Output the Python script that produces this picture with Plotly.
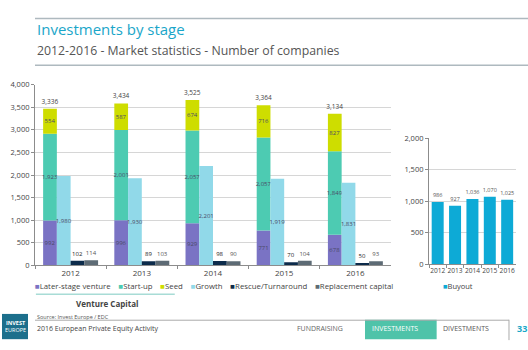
import plotly.graph_objects as go

# ---------------- data ----------------
years = ["2012", "2013", "2014", "2015", "2016"]
later_stage = [992, 996, 929, 771, 678]
start_up = [1923, 2001, 2057, 2057, 1849]
seed = [554, 587, 674, 716, 827]
growth = [1980, 1930, 2201, 1919, 1831]
rescue = [102, 89, 98, 70, 50]
replacement = [114, 103, 90, 104, 93]
vc_totals = [3336, 3434, 3525, 3364, 3134]
buyout = [986, 927, 1036, 1070, 1025]

vc_ticks = [0, 500, 1000, 1500, 2000, 2500, 3000, 3500, 4000]
bo_ticks = [0, 500, 1000, 1500, 2000]

series_names = ["Later-stage venture", "Start-up", "Seed", "Growth",
                "Rescue/Turnaround", "Replacement capital"]
series_colors = ["#7A73C4", "#4DCBB2", "#CEDD00", "#91D9E9", "#0C2B4B", "#5D6B75"]
buyout_color = "#0DAAD6"

FONT = "Open Sans"
W = 0.193  # bar width in category units

fig = go.Figure()

# stacked bar (later-stage + start-up + seed) built with explicit bases
base_startup = later_stage
base_seed = [a + b for a, b in zip(later_stage, start_up)]
stack_top = [a + b for a, b in zip(base_seed, seed)]

inside_font = dict(size=6, color="#4a4a66", family=FONT)

for vals, base, col, name in [
    (later_stage, None, series_colors[0], series_names[0]),
    (start_up, base_startup, series_colors[1], series_names[1]),
    (seed, base_seed, series_colors[2], series_names[2]),
]:
    fig.add_trace(go.Bar(
        x=years, y=vals, base=base, name=name, marker_color=col,
        marker_line_width=0, offset=-2 * W, width=W,
        text=[f"{v:,}" for v in vals], textposition="inside",
        insidetextanchor="middle", textangle=0, constraintext="none",
        insidetextfont=inside_font, showlegend=False,
    ))

# invisible bar carrying the VC total labels above the stack
fig.add_trace(go.Bar(
    x=years, y=stack_top, marker_color="rgba(0,0,0,0)", marker_line_width=0,
    offset=-2 * W, width=W, text=[f"{v:,}" for v in vc_totals],
    textposition="outside", textangle=0, constraintext="none",
    outsidetextfont=dict(size=6.5, color="#444", family=FONT),
    showlegend=False, hoverinfo="skip", cliponaxis=False,
))

fig.add_trace(go.Bar(
    x=years, y=growth, name=series_names[3], marker_color=series_colors[3],
    marker_line_width=0, offset=-W, width=W,
    text=[f"{v:,}" for v in growth], textposition="inside",
    insidetextanchor="middle", textangle=0, constraintext="none",
    insidetextfont=inside_font, showlegend=False,
))

for vals, off, col, name, fc in [
    (rescue, 0, series_colors[4], series_names[4], "#222"),
    (replacement, W, series_colors[5], series_names[5], "#555"),
]:
    fig.add_trace(go.Bar(
        x=years, y=vals, name=name, marker_color=col, marker_line_width=0,
        offset=off, width=W, text=[f"{v:,}" for v in vals],
        textposition="outside", textangle=0, constraintext="none",
        outsidetextfont=dict(size=6, color=fc, family=FONT),
        showlegend=False, cliponaxis=False,
    ))

# buyout chart
fig.add_trace(go.Bar(
    x=years, y=buyout, name="Buyout", marker_color=buyout_color,
    marker_line_width=0, width=0.69, xaxis="x2", yaxis="y2",
    text=[f"{v:,}" for v in buyout], textposition="outside", textangle=0,
    constraintext="none", outsidetextfont=dict(size=5.5, color="#555", family=FONT),
    showlegend=False, cliponaxis=False,
))

axis_common = dict(showline=True, linecolor="#8c8c8c", linewidth=1,
                   ticks="outside", tickcolor="#8c8c8c", ticklen=3,
                   zeroline=False)

fig.update_layout(
    width=528, height=350, margin=dict(l=0, r=0, t=0, b=0),
    paper_bgcolor="white", plot_bgcolor="white",
    barmode="overlay", bargap=0.3,
    font=dict(family=FONT, color="#444"),
    xaxis=dict(domain=[0.0663, 0.7405], type="category", range=[-0.5, 4.5],
               tickson="boundaries", tickfont=dict(size=8, color="#444"),
               tickangle=0, showgrid=False, **axis_common),
    yaxis=dict(domain=[0.2343, 0.7657], range=[0, 4000], tickvals=vc_ticks,
               ticktext=[f"{v:,}" for v in vc_ticks],
               tickfont=dict(size=7.5, color="#444"),
               showgrid=True, gridcolor="#D6D6D6", gridwidth=1, **axis_common),
    xaxis2=dict(domain=[0.8125, 0.977], type="category", range=[-0.5, 4.5],
                anchor="y2", tickson="boundaries", tickangle=0,
                tickfont=dict(size=6.6, color="#444"), showgrid=False, **axis_common),
    yaxis2=dict(domain=[0.2371, 0.6086], range=[0, 2000], anchor="x2",
                tickvals=bo_ticks, ticktext=[f"{v:,}" for v in bo_ticks],
                tickfont=dict(size=7.5, color="#444"),
                showgrid=True, gridcolor="#D6D6D6", gridwidth=1, **axis_common),
)

# ---------------- legends (manual, compact) ----------------
legend_text = "\u2002\u2002".join(
    f"<span style='color:{c}'>■</span>{n}" for n, c in zip(series_names, series_colors)
)
annotations = [
    dict(x=0.0625, y=0.174, xref="paper", yref="paper", xanchor="left",
         yanchor="middle", text=legend_text, showarrow=False,
         font=dict(size=7.8, color="#444", family=FONT)),
    dict(x=0.835, y=0.174, xref="paper", yref="paper", xanchor="left",
         yanchor="middle", text=f"<span style='color:{buyout_color}'>■</span>Buyout",
         showarrow=False, font=dict(size=7.5, color="#444", family=FONT)),
    dict(x=0.2027, y=0.1229, xref="paper", yref="paper", xanchor="center",
         yanchor="middle", text="<b>Venture Capital</b>", showarrow=False,
         font=dict(size=8, color="#444", family=FONT)),
    # titles
    dict(x=0.0663, y=0.9286, xref="paper", yref="paper", xanchor="left",
         yanchor="middle", text="Investments by stage", showarrow=False,
         font=dict(size=15, color="#1AA6C9", family=FONT)),
    dict(x=0.0663, y=0.8657, xref="paper", yref="paper", xanchor="left",
         yanchor="middle", text="2012-2016 - Market statistics - Number of companies",
         showarrow=False, font=dict(size=12.3, color="#555", family=FONT)),
    # footer
    dict(x=0.0663, y=0.0829, xref="paper", yref="paper", xanchor="left",
         yanchor="middle", text="Source: Invest Europe / EDC", showarrow=False,
         font=dict(size=5.5, color="#555", family=FONT)),
    dict(x=0.0663, y=0.0486, xref="paper", yref="paper", xanchor="left",
         yanchor="middle", text="2016 European Private Equity Activity", showarrow=False,
         font=dict(size=7, color="#444", family=FONT)),
    dict(x=0.606, y=0.0486, xref="paper", yref="paper", xanchor="center",
         yanchor="middle", text="FUNDRAISING", showarrow=False,
         font=dict(size=7, color="#666", family=FONT)),
    dict(x=0.7008, y=0.0486, xref="paper", yref="paper", xanchor="left",
         yanchor="middle", text="INVESTMENTS", showarrow=False,
         font=dict(size=7, color="white", family=FONT)),
    dict(x=0.835, y=0.0486, xref="paper", yref="paper", xanchor="left",
         yanchor="middle", text="DIVESTMENTS", showarrow=False,
         font=dict(size=7, color="#555", family=FONT)),
    dict(x=0.975, y=0.0486, xref="paper", yref="paper", xanchor="left",
         yanchor="middle", text="<b>33</b>", showarrow=False,
         font=dict(size=9, color="#1AA7C8", family=FONT)),
    dict(x=0.0285, y=0.054, xref="paper", yref="paper", xanchor="center",
         yanchor="middle", text="<b>INVEST</b><br>EUROPE", showarrow=False,
         font=dict(size=5.5, color="white", family=FONT)),
]
fig.update_layout(annotations=annotations)

shapes = [
    dict(type="line", xref="paper", yref="paper", x0=0.0663, x1=1, y0=0.96, y1=0.96,
         line=dict(color="#AEB9BF", width=1.5)),
    dict(type="line", xref="paper", yref="paper", x0=0.0663, x1=1, y0=0.8229, y1=0.8229,
         line=dict(color="#AEB9BF", width=1.5)),
    dict(type="line", xref="paper", yref="paper", x0=0.068, x1=0.331, y0=0.1494, y1=0.1494,
         line=dict(color="#A8DCD6", width=1.5)),
    dict(type="line", xref="paper", yref="paper", x0=0.0663, x1=0.964, y0=0.0729, y1=0.0729,
         line=dict(color="#AAAAAA", width=1)),
    dict(type="line", xref="paper", yref="paper", x0=0.964, x1=0.964, y0=0.0743, y1=0.0143,
         line=dict(color="#AAAAAA", width=1)),
    dict(type="rect", xref="paper", yref="paper", x0=0.6913, x1=0.827, y0=0.0171, y1=0.0743,
         fillcolor="#4FC3A9", line=dict(width=0), layer="below"),
    dict(type="rect", xref="paper", yref="paper", x0=0.0038, x1=0.053, y0=0.0171, y1=0.0914,
         fillcolor="#1C6F8C", line=dict(width=0), layer="below"),
]
fig.update_layout(shapes=shapes)

fig.write_html("out.html")
